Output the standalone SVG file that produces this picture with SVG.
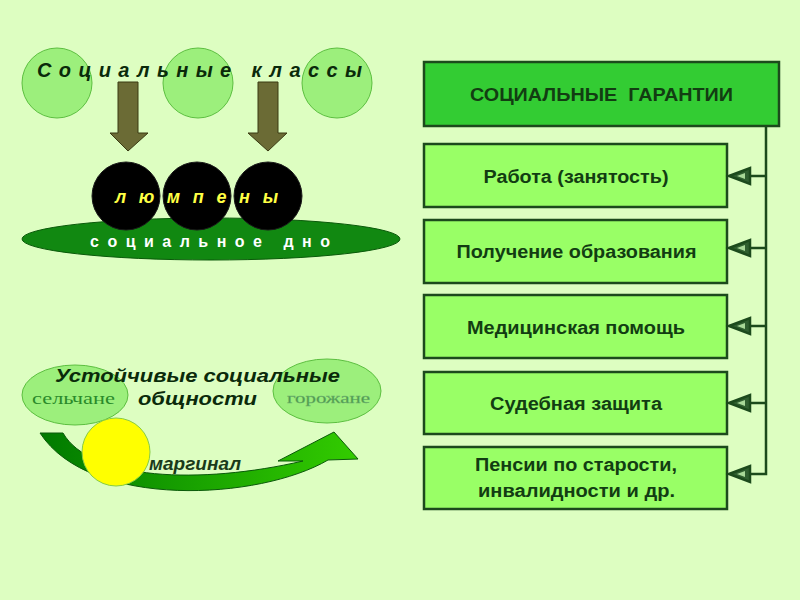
<svg xmlns="http://www.w3.org/2000/svg" xmlns:xlink="http://www.w3.org/1999/xlink" width="800" height="600" viewBox="0 0 800 600">
<style>
.lc{fill:#9cef7c;stroke:#5cbf40;stroke-width:1}
.blk{fill:#000;stroke:#1a1a1a;stroke-width:1}
.dn2{fill:#6b6b35;stroke:#3a3a12;stroke-width:1}
.box{fill:#99ff66;stroke:#1c4a1c;stroke-width:2.5}
.hdr{fill:#33cc33;stroke:#1c4a1c;stroke-width:2.5}
.bt{font-family:"Liberation Sans",Arial,sans-serif;font-weight:bold;font-size:18px;fill:#123d12;text-anchor:middle}
.bi{font-family:"Liberation Sans",Arial,sans-serif;font-weight:bold;font-style:italic}
.conn{stroke:#1c4a1c;stroke-width:2.5;fill:none}
.ell{fill:#9cef7c;stroke:#5cbf40;stroke-width:1}
</style>
<defs>
<linearGradient id="g1" x1="0" y1="0" x2="1" y2="0">
<stop offset="0" stop-color="#007a00"/>
<stop offset="1" stop-color="#33cc00"/>
</linearGradient>
<g id="ah">
<polygon points="0,0 21,-8 21,8" fill="#2f5f2f" stroke="#1c4a1c" stroke-width="2.5" stroke-linejoin="miter"/>
<polygon points="8,0 16,-3 16,3" fill="#a8d898" stroke="none"/>
</g>
</defs>
<rect width="800" height="600" fill="#ddfec1"/>

<g id="social-classes">
<circle class="lc" cx="57" cy="83" r="35"/>
<circle class="lc" cx="198" cy="83" r="35"/>
<circle class="lc" cx="337" cy="83" r="35"/>
<text class="bi" x="37" y="77" font-size="20" fill="#0a2a0a" textLength="325" lengthAdjust="spacing">Социальные классы</text>
</g>

<g id="arrows-down">
<polygon class="dn2" points="118,82 138,82 138,133 148,133 128,151 110,133 118,133"/>
<polygon class="dn2" points="258,82 278,82 278,133 287,133 268,151 248,133 258,133"/>
</g>

<g id="social-bottom">
<ellipse cx="211" cy="239" rx="189" ry="21" fill="#118811" stroke="#0a5a0a" stroke-width="1"/>
<circle class="blk" cx="126" cy="196" r="34"/>
<circle class="blk" cx="197" cy="196" r="34"/>
<circle class="blk" cx="268" cy="196" r="34"/>
<text class="bi" x="115" y="203" font-size="18" fill="#ffff44" textLength="163" lengthAdjust="spacing">люмпены</text>
<text x="90" y="247" font-family="'Liberation Sans',Arial,sans-serif" font-weight="bold" font-size="16" fill="#ffffff" textLength="240" lengthAdjust="spacing">социальное дно</text>
</g>

<g id="communities">
<path d="M40,433 L63,433 C90,480 200,485 303,461 L278,461 L334,432 L358,459 L328,460 C260,500 90,510 40,433 Z" fill="url(#g1)" stroke="#0a5a0a" stroke-width="1"/>
<ellipse class="ell" cx="75" cy="395" rx="53" ry="30"/>
<ellipse class="ell" cx="327" cy="391" rx="54" ry="32"/>
<text x="32" y="404" font-family="'Liberation Serif','Times New Roman',serif" font-size="16" fill="#2a8a2a" textLength="83" lengthAdjust="spacingAndGlyphs">сельчане</text>
<text x="287" y="403" font-family="'Liberation Serif','Times New Roman',serif" font-size="14" fill="#4a9a4a" stroke="#6fb06f" stroke-width="0.3" textLength="83" lengthAdjust="spacingAndGlyphs">горожане</text>
<circle cx="116" cy="452" r="34" fill="#ffff00" stroke="#88cc44" stroke-width="1"/>
<text class="bi" x="55" y="382" font-size="19" fill="#0a2a0a" textLength="285" lengthAdjust="spacingAndGlyphs">Устойчивые социальные</text>
<text class="bi" x="138" y="405" font-size="19" fill="#0a2a0a" textLength="119" lengthAdjust="spacingAndGlyphs">общности</text>
<text class="bi" x="149" y="470" font-size="18" fill="#1a3a1a" textLength="92" lengthAdjust="spacingAndGlyphs">маргинал</text>
</g>

<g id="guarantees">
<rect class="hdr" x="424" y="62" width="355" height="64"/>
<text class="bt" x="601.5" y="101" textLength="263" lengthAdjust="spacingAndGlyphs" xml:space="preserve">СОЦИАЛЬНЫЕ  ГАРАНТИИ</text>
</g>
<g id="work">
<rect class="box" x="424" y="144" width="303" height="63"/>
<text class="bt" x="576" y="183" textLength="185" lengthAdjust="spacingAndGlyphs">Работа (занятость)</text>
</g>
<g id="education">
<rect class="box" x="424" y="220" width="303" height="63"/>
<text class="bt" x="576.5" y="258" textLength="240" lengthAdjust="spacingAndGlyphs">Получение образования</text>
</g>
<g id="medicine">
<rect class="box" x="424" y="295" width="303" height="63"/>
<text class="bt" x="576" y="334" textLength="218" lengthAdjust="spacingAndGlyphs">Медицинская помощь</text>
</g>
<g id="court">
<rect class="box" x="424" y="372" width="303" height="62"/>
<text class="bt" x="576" y="410" textLength="172" lengthAdjust="spacingAndGlyphs">Судебная защита</text>
</g>
<g id="pensions">
<rect class="box" x="424" y="447" width="303" height="62"/>
<text class="bt" x="576" y="471" textLength="202" lengthAdjust="spacingAndGlyphs">Пенсии по старости,</text>
<text class="bt" x="576.5" y="497" textLength="197" lengthAdjust="spacingAndGlyphs">инвалидности и др.</text>
</g>

<g id="connectors">
<path class="conn" d="M766,126 L766,474 L749,474 M766,176 L749,176 M766,248 L749,248 M766,326 L749,326 M766,403 L749,403"/>
<use xlink:href="#ah" x="729" y="176"/>
<use xlink:href="#ah" x="729" y="248"/>
<use xlink:href="#ah" x="729" y="326"/>
<use xlink:href="#ah" x="729" y="403"/>
<use xlink:href="#ah" x="729" y="474"/>
</g>
</svg>
